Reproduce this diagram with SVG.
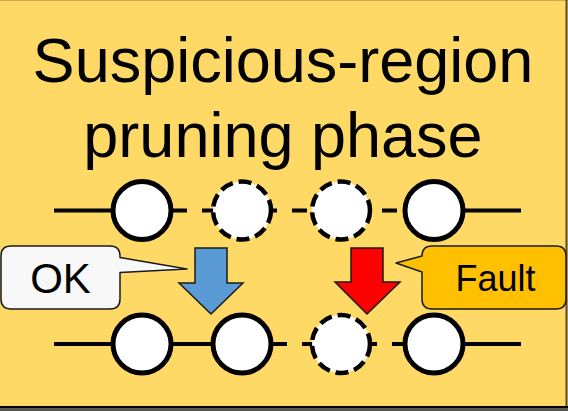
<svg xmlns="http://www.w3.org/2000/svg" width="568" height="411" viewBox="0 0 568 411">
  <defs>
    <style>
      .title { font-family: "Liberation Sans", Arial, sans-serif; font-size: 63px; fill: #000; text-anchor: middle; }
      .label { font-family: "Liberation Sans", Arial, sans-serif; fill: #000; text-anchor: middle; }
      .wire { stroke: #000; stroke-width: 4; fill: none; }
      .dashed-wire { stroke: #000; stroke-width: 4; fill: none; stroke-dasharray: 15 15; }
      .node { fill: #fff; stroke: #000; stroke-width: 5; }
      .node-suspect { fill: #fff; stroke: #000; stroke-width: 4.5; stroke-dasharray: 13 6; }
      .arrow { stroke: #1a1a1a; stroke-width: 1.5; stroke-linejoin: miter; }
      .callout { stroke: #1a1a1a; stroke-width: 1.5; stroke-linejoin: round; }
    </style>
  </defs>

  <!-- panel background and frame -->
  <rect x="0" y="0" width="568" height="411" fill="#FFD966"/>
  <line x1="0" y1="0.5" x2="568" y2="0.5" stroke="#C9A84E" stroke-width="1"/>
  <line x1="566.5" y1="0" x2="566.5" y2="406" stroke="#5C4A28" stroke-width="2"/>
  <rect x="0" y="406" width="568" height="2.5" fill="#000"/>
  <rect x="0" y="408.5" width="568" height="2.5" fill="#555"/>

  <!-- heading -->
  <text class="title" x="283" y="82">Suspicious-region</text>
  <text class="title" x="283" y="157">pruning phase</text>

  <!-- connectors -->
  <g id="connectors">
    <!-- upper chain -->
    <line class="wire" x1="54" y1="210.5" x2="142" y2="210.5"/>
    <line class="dashed-wire" x1="142" y1="210.5" x2="242" y2="210.5"/>
    <line class="dashed-wire" x1="242" y1="210.5" x2="341" y2="210.5" stroke-dashoffset="10"/>
    <line class="dashed-wire" x1="341" y1="210.5" x2="434" y2="210.5" stroke-dashoffset="19"/>
    <line class="wire" x1="434" y1="210.5" x2="521" y2="210.5"/>
    <!-- lower chain -->
    <line class="wire" x1="54" y1="344" x2="242" y2="344"/>
    <line class="dashed-wire" x1="242" y1="344" x2="341" y2="344"/>
    <line class="dashed-wire" x1="341" y1="344" x2="434" y2="344" stroke-dashoffset="9"/>
    <line class="wire" x1="434" y1="344" x2="521" y2="344"/>
  </g>

  <!-- upper chain nodes -->
  <g id="top-1"><circle class="node" cx="142" cy="210.5" r="29"/></g>
  <g id="top-2"><circle class="node-suspect" cx="242" cy="210.5" r="29"/></g>
  <g id="top-3"><circle class="node-suspect" cx="341" cy="210.5" r="29"/></g>
  <g id="top-4"><circle class="node" cx="434" cy="210.5" r="29"/></g>

  <!-- lower chain nodes -->
  <g id="bottom-1"><circle class="node" cx="142" cy="344" r="29"/></g>
  <g id="bottom-2"><circle class="node" cx="242" cy="344" r="29"/></g>
  <g id="bottom-3"><circle class="node-suspect" cx="341" cy="344" r="29"/></g>
  <g id="bottom-4"><circle class="node" cx="434" cy="344" r="29"/></g>

  <!-- down arrows -->
  <g id="arrow-ok">
    <polygon class="arrow" fill="#5B9BD5" points="195,248 227,248 227,283 243,283 211,314 179,283 195,283"/>
  </g>
  <g id="arrow-fault">
    <polygon class="arrow" fill="#FF0000" points="351,248 383,248 383,282 400,282 367,314 335,282 351,282"/>
  </g>

  <!-- callouts -->
  <g id="callout-ok">
    <path class="callout" fill="#F8F8F8" d="M11,246 H110 Q120,246 120,256 V257.5 L187,269 L120,272.5 V299 Q120,309 110,309 H11 Q1,309 1,299 V256 Q1,246 11,246 Z"/>
    <text class="label" x="60.5" y="293" font-size="42">OK</text>
  </g>
  <g id="callout-fault">
    <path class="callout" fill="#FFC000" d="M432,246 H556 Q566,246 566,256 V299 Q566,309 556,309 H432 Q422,309 422,299 V272 L396,263 L422,256 Q422,246 432,246 Z"/>
    <text class="label" x="495.5" y="291" font-size="36">Fault</text>
  </g>
</svg>
